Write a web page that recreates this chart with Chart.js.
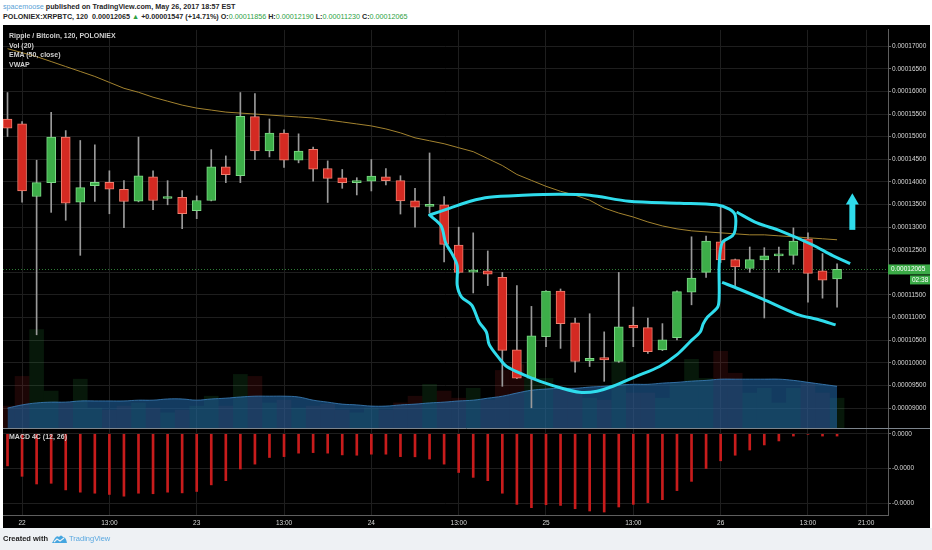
<!DOCTYPE html>
<html>
<head>
<meta charset="utf-8">
<script src="https://cdn.jsdelivr.net/npm/chart.js@4.4.1/dist/chart.umd.min.js"></script>
<style>
  html, body { margin: 0; padding: 0; width: 932px; height: 550px; overflow: hidden; background: #fff; font-family: "Liberation Sans", Arial, sans-serif; }
  #footer { position: absolute; left: 0; top: 528px; width: 932px; height: 22px; background: #eef1f4; }
  #frame { position: absolute; left: 3px; top: 25px; width: 927px; height: 503px; background: #000; }
  #chart { position: absolute; left: 0; top: 0; }
  .hdr { position: absolute; left: 3px; font-size: 7.2px; line-height: 10px; font-weight: bold; color: #262626; white-space: nowrap; }
  .user { color: #5a9fd6; font-weight: normal; }
  .g { color: #2ea043; font-weight: normal; }
  .lg { position: absolute; left: 6px; font-size: 7px; line-height: 10px; font-weight: bold; color: #cfcfcf; white-space: nowrap; }
  .ft { position: absolute; top: 534px; font-size: 7.5px; line-height: 10px; white-space: nowrap; }
</style>
</head>
<body>
<div class="hdr" style="top:2px"><span class="user">spacemoose</span> published on TradingView.com, May 26, 2017 18:57 EST</div>
<div class="hdr" style="top:12px">POLONIEX:XRPBTC, 120&nbsp; 0.00012065 <span class="g">&#9650;</span> +0.00001547 (+14.71%) O:<span class="g">0.00011856</span> H:<span class="g">0.00012190</span> L:<span class="g">0.00011230</span> C:<span class="g">0.00012065</span></div>

<div id="frame">
  <canvas id="chart" width="927" height="503"></canvas>
  <div class="lg" style="top:5.5px">Ripple / Bitcoin, 120, POLONIEX</div>
  <div class="lg" style="top:15.5px">Vol (20)</div>
  <div class="lg" style="top:25.3px">EMA (50, close)</div>
  <div class="lg" style="top:35.3px">VWAP</div>
  <div class="lg" style="top:407px">MACD 4C (12, 26)</div>
</div>

<div id="footer"></div>
<div class="ft" style="left:3px;color:#222;font-weight:bold">Created with</div>
<svg style="position:absolute;left:52px;top:535px" width="15" height="8" viewBox="0 0 15 8">
  <path d="M0 8 L3 3 Q5 0 7 2 Q9 -1 11 2 Q14 2 15 8 Z" fill="#45a6e0"/>
  <path d="M2 7 L5 4 L8 6 L12 3" stroke="#eef1f4" stroke-width="1.2" fill="none"/>
</svg>
<div class="ft" style="left:69px;color:#5aa8e0">TradingView</div>

<script>
// prices in satoshi (1e-8 BTC), one 2h candle per index
const open  = [15391,15282,13677,13984,14991,13553,13918,13990,13837,13575,14115,13634,13662,13362,13590,14334,14137,15442,14684,15078,14479,14719,14297,14093,13984,14019,14115,14028,13581,13459,13494,12605,12005,12036,11889,10285,9663,10576,11589,10882,10044,10116,10029,10832,10779,10285,10554,11561,11999,12677,12283,12086,12277,12364,12377,12743,12036,11856];
const high  = [15976,15332,14479,15538,15135,14916,14822,14246,14028,14991,14246,14028,13809,13691,14713,14575,15976,15954,15391,15150,15063,14772,14465,14275,14093,14494,14297,14137,13859,14640,13677,12999,12874,12474,11999,11708,11248,11600,11633,10992,11086,10685,11999,11233,10992,10867,11590,12787,12802,13459,12295,12561,12546,12561,12984,12874,12415,12190];
const low   = [15004,13553,10620,13327,13152,12377,13568,13296,12990,13559,13384,13494,12968,13187,13580,13984,13984,14494,14553,14319,14422,14019,13546,13859,13712,13800,13931,13290,12999,13312,12233,11980,11545,11708,9481,9650,9006,10357,10320,9794,9919,9591,10010,10357,10210,10270,10504,11283,11889,12218,11708,11999,10992,11999,12180,11342,11430,11230];
const close = [15188,13800,13984,14991,13531,13874,13990,13837,13568,14137,13590,13662,13296,13590,14334,14159,15450,14684,15078,14479,14680,14282,14078,13984,14019,14128,14028,13581,13443,13480,12618,11999,12027,11961,10276,9663,10598,11589,10867,10029,10101,10066,10795,10773,10247,10510,11576,11874,12692,12277,12123,12283,12364,12399,12692,11977,11830,12065];
const ema50 = [16945,16858,16770,16661,16551,16442,16332,16201,16070,15982,15873,15785,15698,15632,15588,15544,15522,15501,15479,15457,15435,15413,15369,15326,15282,15238,15172,15085,14975,14910,14844,14756,14669,14516,14362,14165,14034,13903,13793,13706,13596,13421,13312,13224,13115,13027,12962,12918,12896,12874,12852,12830,12830,12808,12787,12765,12743,12721];
const volume = [5.5,13,24.8,9.3,6.3,12.3,5,4.5,5.5,6.3,5,3.8,4.5,5.5,8,5.5,13.5,13,6.3,7,5,5.5,6,4.5,3.8,5,4.5,6.3,8,11,9.3,7.5,10,7,14.5,16,12.5,12.5,9.5,8.8,7.5,7,16.8,8.8,8.8,7.5,11.3,17.3,12.5,19.3,13.8,8.8,10,6.3,10,11.3,8.8,7.5];
const volumeMa = [5,5.8,6.3,6.5,6.5,6.8,6.8,6.8,6.8,7,7,7.3,7.3,7,7.3,7.5,7.8,8,8,8,7.8,7,6.5,6,5.8,5.5,5.5,5.8,6,6.3,6.5,6.8,7,7.5,8,8.8,9.5,9.8,10,10,10.3,10.5,10.8,11,11,11.3,11.5,11.8,12,12.3,12.3,12.3,12.3,12.3,12,11.5,11,10.5];
const macdHist = [-184,-244,-288,-284,-322,-335,-341,-348,-358,-341,-344,-335,-339,-331,-293,-269,-202,-174,-136,-131,-111,-108,-111,-121,-123,-117,-117,-131,-132,-145,-174,-222,-250,-269,-341,-405,-424,-407,-411,-430,-443,-449,-420,-405,-395,-378,-326,-273,-199,-155,-123,-93,-64,-41,-13,-3,-13,-13];

const timeTickPos = [1, 7, 13, 19, 25, 31, 37, 43, 49, 55, 59];
const timeTickLabels = ['22', '13:00', '23', '13:00', '24', '13:00', '25', '13:00', '26', '13:00', '21:00'];
const priceTicks = [9000, 9500, 10000, 10500, 11000, 11500, 12000, 12500, 13000, 13500, 14000, 14500, 15000, 15500, 16000, 16500, 17000];
const macdTicks = [0, -200, -400];

// hand-drawn markup: [candle position, price]
const cupOutline = [[29.0,13268],[30.4,13421],[31.8,13574],[33.1,13662],[35.4,13706],[37.9,13728],[40.0,13706],[42.7,13574],[46.2,13531],[48.7,13494],[49.6,13399],[50.0,13268],[50.0,12940],[49.8,12808],[49.1,12655],[48.9,12152],[48.9,11495],[48.8,11233],[48.1,11014],[47.8,10860],[47.6,10685],[46.9,10466],[46.0,10182],[44.8,9919],[43.2,9700],[41.6,9482],[40.5,9372],[39.3,9350],[38.1,9438],[36.6,9591],[35.4,9744],[34.3,9919],[33.8,10094],[33.1,10401],[32.9,10685],[32.4,10904],[31.9,11276],[31.2,11451],[30.9,11714],[30.9,12152],[30.5,12436],[30.1,12655],[29.8,13027],[29.0,13268]];
const upperLine = [[50.1,13334],[51.5,13093],[53.1,12918],[55.3,12611],[56.7,12371],[57.9,12196]];
const lowerLine = [[49.1,11780],[50.3,11627],[51.9,11408],[54.2,11079],[55.8,10948],[56.9,10838]];
const arrowShaft = [[58.05,12940],[58.05,13550]];
const arrowHead = [[58.05,13585]];

const idx = open.map((_, i) => i);
const isUp = i => close[i] >= open[i];
const pts = arr => arr.map(p => ({x: p[0], y: p[1]}));
const cyan = '#2fdcec';

const panePlugin = {
    id: 'panes',
    beforeDatasetsDraw(chart) {
        const {ctx, chartArea, scales} = chart;
        const y = Math.round(scales.y.getPixelForValue(close[close.length - 1])) + 0.5;
        ctx.save();
        ctx.strokeStyle = '#2d7d36';
        ctx.lineWidth = 1;
        ctx.setLineDash([1, 2]);
        ctx.beginPath();
        ctx.moveTo(chartArea.left, y);
        ctx.lineTo(chartArea.right, y);
        ctx.stroke();
        ctx.restore();
    },
    afterDraw(chart) {
        const {ctx, chartArea, scales} = chart;
        const sep = Math.round(scales.y.bottom) + 0.5;
        ctx.save();
        ctx.strokeStyle = '#7c848c';
        ctx.lineWidth = 1;
        ctx.beginPath();
        ctx.moveTo(chartArea.left, sep);
        ctx.lineTo(chart.width, sep);
        ctx.stroke();

        const last = close[close.length - 1];
        const y = scales.y.getPixelForValue(last);
        const x0 = chartArea.right;
        ctx.fillStyle = '#3bab47';
        ctx.fillRect(x0, y - 5, chart.width - x0, 10);
        ctx.fillRect(x0 + 22, y + 6, 20, 9);
        ctx.fillStyle = '#ffffff';
        ctx.font = '6.5px "Liberation Sans", Arial, sans-serif';
        ctx.textBaseline = 'middle';
        ctx.fillText((last / 1e8).toFixed(8), x0 + 3, y);
        ctx.fillText('02:38', x0 + 24, y + 10.5);
        ctx.restore();
    }
};

const axisFont = {family: '"Liberation Sans", Arial, sans-serif', size: 6.5};

new Chart(document.getElementById('chart').getContext('2d'), {
    type: 'bar',
    data: {
        datasets: [
            {
                type: 'line', order: 1, yAxisID: 'y',
                data: pts(cupOutline), borderColor: cyan, borderWidth: 3, tension: 0.3,
                pointRadius: 0, fill: false, borderCapStyle: 'round', borderJoinStyle: 'round'
            },
            {
                type: 'line', order: 1, yAxisID: 'y',
                data: pts(upperLine), borderColor: cyan, borderWidth: 3, tension: 0.3, pointRadius: 0, fill: false
            },
            {
                type: 'line', order: 1, yAxisID: 'y',
                data: pts(lowerLine), borderColor: cyan, borderWidth: 3, tension: 0.3, pointRadius: 0, fill: false
            },
            {
                type: 'line', order: 1, yAxisID: 'y',
                data: pts(arrowShaft), borderColor: cyan, borderWidth: 6, pointRadius: 0, fill: false
            },
            {
                type: 'line', order: 1, yAxisID: 'y', showLine: false,
                data: pts(arrowHead), pointStyle: 'triangle', pointRadius: 7.5,
                pointBackgroundColor: cyan, pointBorderWidth: 0
            },
            {
                type: 'bar', order: 3, yAxisID: 'y', grouped: false,
                data: idx.map(i => ({x: i, y: [open[i], close[i]]})),
                backgroundColor: idx.map(i => isUp(i) ? '#3dae49' : '#d42a22'),
                borderColor: idx.map(i => isUp(i) ? '#7cd986' : '#f08070'),
                borderWidth: 1, borderSkipped: false, barThickness: 9, minBarLength: 2
            },
            {
                type: 'bar', order: 4, yAxisID: 'y', grouped: false,
                data: idx.map(i => ({x: i, y: [low[i], high[i]]})),
                backgroundColor: '#9a9a9a', barThickness: 1, minBarLength: 1
            },
            {
                type: 'line', order: 5, yAxisID: 'y',
                data: idx.map(i => ({x: i, y: ema50[i]})),
                borderColor: '#a3832f', borderWidth: 1, pointRadius: 0, fill: false
            },
            {
                type: 'bar', order: 8, yAxisID: 'macd', grouped: false,
                data: idx.map(i => ({x: i, y: macdHist[i]})),
                backgroundColor: '#c81c1c', barThickness: 2
            },
            {
                type: 'line', order: 9, yAxisID: 'vol',
                data: idx.map(i => ({x: i, y: volumeMa[i]})),
                borderColor: 'rgba(60,130,190,0.8)', borderWidth: 1,
                backgroundColor: 'rgba(30,95,155,0.62)', fill: 'origin', tension: 0.4, pointRadius: 0
            },
            {
                type: 'bar', order: 10, yAxisID: 'vol', grouped: false,
                data: idx.map(i => ({x: i, y: volume[i]})),
                backgroundColor: idx.map(i => isUp(i) ? 'rgba(50,170,70,0.14)' : 'rgba(200,40,40,0.14)'),
                barThickness: 14
            }
        ]
    },
    options: {
        responsive: false,
        animation: false,
        events: [],
        layout: {padding: 0, autoPadding: false},
        plugins: {legend: {display: false}, tooltip: {enabled: false}},
        scales: {
            x: {
                type: 'linear', position: 'bottom', min: -0.31, max: 60.5, offset: false,
                afterBuildTicks: s => { s.ticks = timeTickPos.map(v => ({value: v})); },
                afterFit: s => { s.height = 13; },
                grid: {color: '#1e1e1e', offset: false, drawTicks: false},
                border: {color: '#5e5e5e'},
                ticks: {
                    color: '#d8d8d8', font: axisFont, padding: 4, maxRotation: 0, autoSkip: false,
                    callback: v => timeTickLabels[timeTickPos.indexOf(v)]
                }
            },
            y: {
                type: 'linear', position: 'right', stack: 'panes', stackWeight: 402,
                min: 8562, max: 17361,
                afterBuildTicks: s => { s.ticks = priceTicks.map(v => ({value: v})); },
                afterFit: s => { s.width = 42; },
                grid: {color: '#1e1e1e', tickColor: '#6a6a6a', tickLength: 3},
                border: {color: '#5e5e5e'},
                ticks: {color: '#d8d8d8', font: axisFont, padding: 1, callback: v => (v / 1e8).toFixed(8)}
            },
            macd: {
                type: 'linear', position: 'right', stack: 'panes', stackWeight: 88,
                min: -466, max: 34,
                afterBuildTicks: s => { s.ticks = macdTicks.map(v => ({value: v})); },
                afterFit: s => { s.width = 42; },
                grid: {color: '#1e1e1e', tickColor: '#6a6a6a', tickLength: 3},
                border: {color: '#5e5e5e'},
                ticks: {color: '#d8d8d8', font: axisFont, padding: 1, callback: v => (v / 1e8).toFixed(4)}
            },
            vol: {
                type: 'linear', position: 'left', display: false, min: -22, max: 100.5
            }
        }
    },
    plugins: [panePlugin]
});
</script>
</body>
</html>
